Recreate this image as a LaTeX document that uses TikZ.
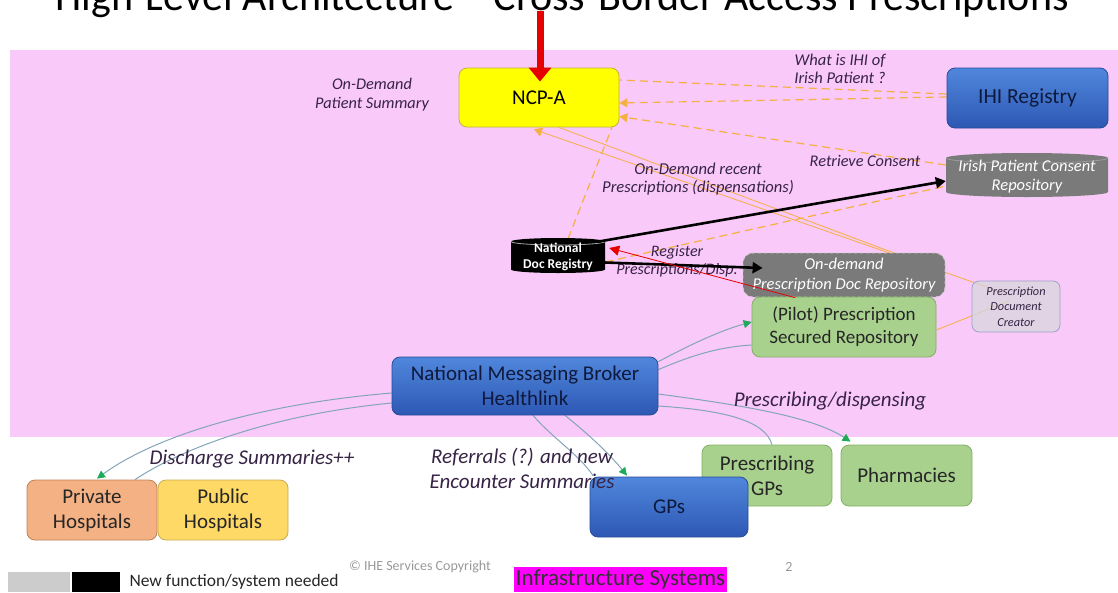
\documentclass[tikz,border=0pt]{standalone}
\usepackage{fontspec}
\setmainfont{Carlito}
\usetikzlibrary{arrows.meta,calc}

\definecolor{pinkbg}{RGB}{249,201,249}
\definecolor{lbl}{RGB}{55,35,70}
\definecolor{ncpyellow}{RGB}{255,255,0}
\definecolor{ncpedge}{RGB}{190,180,60}
\definecolor{bluetop}{RGB}{80,135,220}
\definecolor{bluebot}{RGB}{45,88,180}
\definecolor{blueedge}{RGB}{40,75,150}
\definecolor{bluetext}{RGB}{15,25,60}
\definecolor{greenfill}{RGB}{169,209,142}
\definecolor{greenedge}{RGB}{130,175,100}
\definecolor{orangefill}{RGB}{244,177,131}
\definecolor{orangeedge}{RGB}{190,130,90}
\definecolor{yellowfill}{RGB}{255,217,102}
\definecolor{yellowedge}{RGB}{200,170,80}
\definecolor{flowgold}{RGB}{245,176,65}
\definecolor{msgline}{RGB}{130,165,185}
\definecolor{msgtip}{RGB}{30,170,90}
\definecolor{greybox}{RGB}{122,122,122}
\definecolor{creatorfill}{RGB}{215,215,222}
\definecolor{creatoredge}{RGB}{160,160,200}
\definecolor{alertred}{RGB}{230,0,0}
\definecolor{magentabar}{RGB}{255,0,255}

\pgfdeclarelayer{bg}
\pgfdeclarelayer{links}
\pgfsetlayers{bg,links,main}

% cylinder body: centre x, centre y, width, height, end radius, fill, rim colour
\newcommand\drawcyl[7]{%
  \fill[#6] ({#1-#3/2},{#2+#4/2-#5}) -- ({#1-#3/2},{#2-#4/2+#5})
     arc[start angle=180,end angle=360,x radius={#3/2},y radius=#5]
     -- ({#1+#3/2},{#2+#4/2-#5})
     arc[start angle=0,end angle=180,x radius={#3/2},y radius=#5] -- cycle;
  \draw[#7,line width=0.8pt] ({#1-#3/2},{#2+#4/2-#5})
     arc[start angle=180,end angle=360,x radius={#3/2},y radius=#5];
}

\tikzset{
  sysbox/.style={rounded corners=8pt, line width=0.8pt, align=center, inner sep=0pt,
    font=\fontsize{21}{25}\selectfont},
  bluebox/.style={sysbox, top color=bluetop, bottom color=bluebot, draw=blueedge, text=bluetext},
  greenbox/.style={sysbox, fill=greenfill, draw=greenedge, text=black!85},
  cylnode/.style={align=center, inner sep=0pt, text=white},
  note/.style={align=center, text=lbl, font=\fontsize{16.3}{19}\selectfont\itshape},
  bignote/.style={align=center, text=lbl, font=\fontsize{21}{25}\selectfont\itshape},
  goldflow/.style={draw=flowgold, line width=1.2pt, dash pattern=on 8pt off 5pt},
  goldthin/.style={draw=flowgold, line width=0.8pt},
  goldtip/.style={-{Triangle[width=9pt,length=8pt,color=flowgold]}},
  blackflow/.style={draw=black, line width=2.6pt, -{Triangle[width=11pt,length=10pt]}},
  msg/.style={draw=msgline, line width=1pt},
  msgtipstyle/.style={-{Triangle[width=8pt,length=8pt,color=msgtip]}}
}

\begin{document}
\begin{tikzpicture}[x=1pt,y=1pt]
\useasboundingbox (0,0) rectangle (1118,-592);

% heading (its upper half runs off the page)
\node[anchor=base, font=\fontsize{42}{46}\selectfont, text=black] (title) at (562,-10)
  {High-Level Architecture – Cross-Border Access Prescriptions};

% pink zone
\begin{pgfonlayer}{bg}
  \fill[pinkbg] (10,-50) rectangle (1118,-437);
\end{pgfonlayer}

% cylinders
\drawcyl{1027}{-175}{162}{44}{5}{greybox}{greybox!75!white}
\drawcyl{558}{-255.5}{94}{35}{3.5}{black}{gray!70}

% systems
\node[sysbox, fill=ncpyellow, draw=ncpedge, minimum width=160, minimum height=59] (ncp) at (539,-97.5) {NCP-A};
\node[bluebox, minimum width=161, minimum height=60, font=\fontsize{21.5}{25}\selectfont] (ihi) at (1027.5,-98) {IHI Registry};
\node[cylnode, minimum width=162, minimum height=44, font=\fontsize{16.5}{19}\selectfont\itshape] (consent) at (1027,-177) {Irish Patient Consent\\Repository};
\node[cylnode, minimum width=94, minimum height=35, font=\fontsize{13.5}{16}\selectfont\bfseries] (ndr) at (558,-256.5) {National\\Doc Registry};
\node[rounded corners=10pt, fill=greybox, draw=white!60!greybox, dashed, line width=0.8pt,
  minimum width=202, minimum height=44, cylnode, font=\fontsize{16.5}{20}\selectfont\itshape] (odr) at (844,-275)
  {On-demand\\Prescription Doc Repository};
\node[greenbox, minimum width=184, minimum height=60, font=\fontsize{19}{23}\selectfont] (pilot) at (844,-327) {(Pilot) Prescription\\Secured Repository};
\node[bluebox, minimum width=266, minimum height=58] (broker) at (525,-386) {National Messaging Broker\\Healthlink};
\node[sysbox, fill=orangefill, draw=orangeedge, minimum width=130, minimum height=60, text=black!85] (private) at (92,-510) {Private\\Hospitals};
\node[sysbox, fill=yellowfill, draw=yellowedge, minimum width=130, minimum height=60, text=black!85] (public) at (223,-510) {Public\\Hospitals};
\node[greenbox, minimum width=130, minimum height=61] (prescgps) at (767,-475.5) {Prescribing\\GPs};
\node[greenbox, minimum width=131, minimum height=61] (pharm) at (906.5,-475.5) {Pharmacies};
\node[bluebox, minimum width=158, minimum height=60] (gps) at (669,-507) {GPs};

% document creator (see-through)
\node[rounded corners=7pt, fill=creatorfill, fill opacity=0.75, text opacity=1, draw=creatoredge,
  line width=0.8pt, minimum width=88, minimum height=51, align=center, inner sep=0pt,
  text=lbl, font=\fontsize{12.3}{15.5}\selectfont\itshape] (creator) at (1016,-306.5)
  {Prescription\\Document\\Creator};

% flow labels
\node[note] (lpatsum) at (372,-95) {On-Demand\\Patient Summary};
\node[note, font=\fontsize{16.5}{17.5}\selectfont\itshape] (lihi) at (840,-69) {What is IHI of\\Irish Patient ?};
\node[note] (lconsent) at (865,-161) {Retrieve Consent};
\node[note, font=\fontsize{16.6}{18.5}\selectfont\itshape] (lrecent) at (698,-179) {On-Demand recent\\Prescriptions (dispensations)};
\node[note, font=\fontsize{16}{18}\selectfont\itshape] (lregister) at (677,-261) {Register\\Prescriptions/Disp.};
\node[bignote] (lpresc) at (830,-401) {Prescribing/dispensing};
\node[bignote] (ldischarge) at (252,-459) {Discharge Summaries++};
\node[bignote] (lreferral) at (522,-468.5) {Referrals (?) and new\\Encounter Summaries};

% exchanges with NCP-A
\begin{pgfonlayer}{links}
  \draw[goldflow] ([yshift=4]ihi.west) -- ([yshift=17.5]ncp.east);
  \draw[goldflow, goldtip] ([yshift=1]ihi.west) -- ([yshift=-5.5]ncp.east);
  \draw[goldflow, goldtip] ([yshift=12]consent.west) -- ([yshift=-19]ncp.east);
  \draw[goldflow] ([xshift=10]ndr.north) -- ([xshift=73]ncp.south);
  \draw[goldflow] ([yshift=-5.5]ndr.east) -- ([yshift=-9]consent.west);
  \draw[goldthin, goldtip] ([xshift=-6,yshift=11.5]creator.center) -- ([xshift=-5,yshift=-2]ncp.south);
  \draw[goldthin, goldtip] ([xshift=20]ncp.south) -- ([xshift=73,yshift=-9]odr.north);
  \draw[goldthin] ([yshift=-3]pilot.east) -- ([xshift=-6,yshift=6]creator.center);

  % messaging broker traffic
  \draw[msg, msgtipstyle] ([yshift=-5]broker.north east) .. controls +(32,17) and +(-30,-8) .. ([yshift=5]pilot.west);
  \draw[msg] ([yshift=-13]broker.north east) .. controls +(35,15) and +(-32,-2) .. ([yshift=-18]pilot.west);
  \draw[msg, msgtipstyle] ([yshift=-8]broker.east) .. controls +(82,-11) and +(-38,25) .. ([xshift=-56,yshift=3]pharm.north);
  \draw[msg] ([yshift=-20]broker.east) .. controls +(62,-4) and +(-7,25) .. ([xshift=5]prescgps.north);
  \draw[msg] ([xshift=8]broker.south) .. controls +(22,-25) and +(-15,22) .. ([xshift=-76,yshift=1]gps.north);
  \draw[msg, msgtipstyle] ([xshift=40]broker.south) .. controls +(25,-20) and +(-17,21) .. ([xshift=-42,yshift=1]gps.north);
  \draw[msg, msgtipstyle] ([yshift=-7]broker.west) .. controls +(-143,-12) and +(53,39) .. ([xshift=5,yshift=1]private.north);
  \draw[msg] ([yshift=-17]broker.west) .. controls +(-123,-12) and +(45,30) .. ([xshift=43]private.north);
\end{pgfonlayer}

% new document flows
\draw[blackflow] ([xshift=-8,yshift=-3]ndr.north east) -- ([yshift=-4]consent.west);
\draw[blackflow] ([yshift=-6]ndr.east) -- ([xshift=20,yshift=7]odr.west);
\draw[draw=alertred, line width=0.8pt, -{Triangle[width=10pt,length=10pt,color=alertred]}]
  ([xshift=-49,yshift=-1]pilot.north) -- ([xshift=4,yshift=8.5]ndr.east);

% cross-border request entering NCP-A
\coordinate (redtop) at (540,-11);
\draw[draw=alertred, line width=7pt, -{Triangle[width=22pt,length=14pt,color=alertred]}]
  (redtop) -- ([xshift=1,yshift=-14]ncp.north);

% footer
\fill[gray!40] (8,-572) rectangle (70,-592);
\fill[black] (72,-572) rectangle (120,-592);
\node[anchor=west, font=\fontsize{17.5}{20}\selectfont, text=black!85] (legend) at (126,-582) {New function/system needed};
\node[font=\fontsize{14}{16}\selectfont, text=gray!80] (copy) at (420,-567) {© IHE Services Copyright};
\node[font=\fontsize{14}{16}\selectfont, text=gray!80] (pageno) at (789,-567) {2};
\node[fill=magentabar, minimum width=213, minimum height=25, inner sep=0pt,
  font=\fontsize{23}{25}\selectfont, text=black!80] (infra) at (620.5,-579.5) {Infrastructure Systems};
\end{tikzpicture}
\end{document}
